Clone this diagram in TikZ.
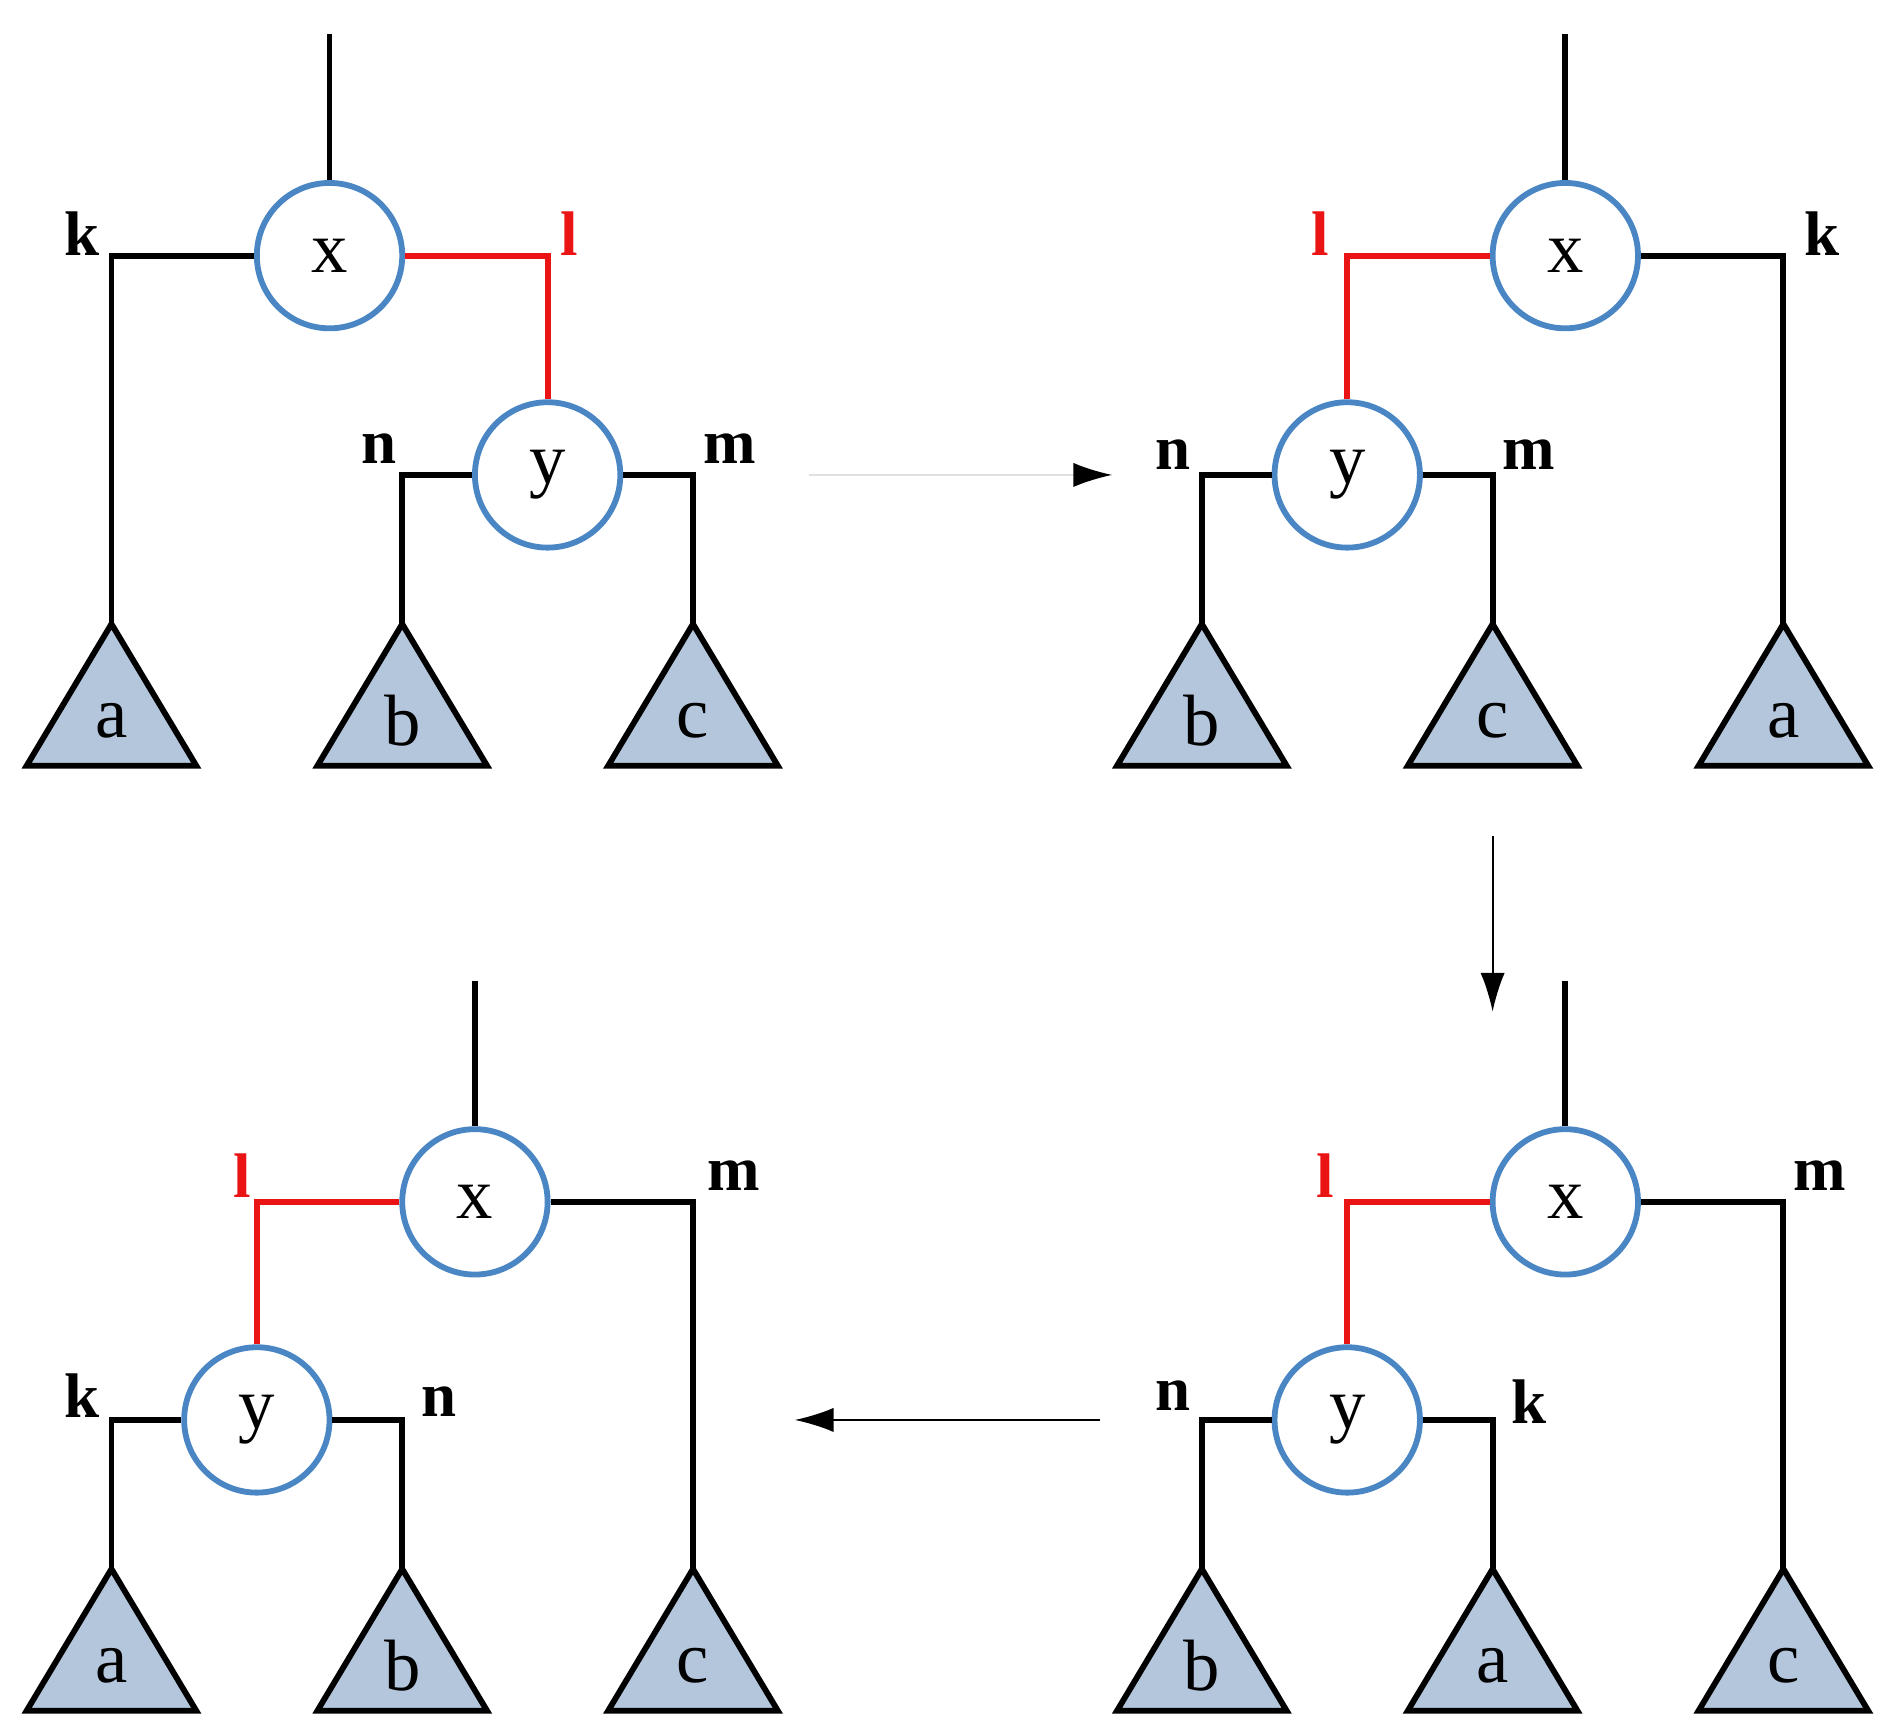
\documentclass[tikz,border=0pt]{standalone}
\usepackage{fontspec}
\setmainfont{Liberation Serif}
\usetikzlibrary{arrows.meta}
\definecolor{cblue}{RGB}{74,134,196}
\definecolor{tfill}{RGB}{180,198,220}
\definecolor{lred}{RGB}{235,20,20}
\tikzset{
 circ/.style={circle,draw=cblue,line width=2.4pt,minimum size=60pt,inner sep=0pt,font=\fontsize{30}{30}\selectfont,fill=white},
 edge/.style={line width=2.4pt,black},
 redge/.style={line width=2.4pt,lred},
 lab/.style={font=\bfseries\fontsize{26}{26}\selectfont},
 rlab/.style={lab,text=lred},
 tri/.style={line width=2.4pt,fill=tfill,draw=black},
 tlab/.style={font=\fontsize{30}{30}\selectfont},
 arr/.style={line width=0.8pt,-{Latex[length=16pt,width=10pt,color=black,fill=black]}}
}
% triangle: #1 name, #2 x, #3 top y, #4 label
\newcommand{\mytri}[4]{%
 \coordinate (#1) at (#2,#3);
 \draw[tri] (#1) -- ++(70,117) -- ++(-140,0) -- cycle;
 \node[tlab] (#1l) at (#2,#3+80) {#4};}
\begin{document}
\begin{tikzpicture}[x=0.5pt,y=-0.5pt]
\useasboundingbox (0,0) rectangle (1560,1426);
% ---------- panel 1
\node[circ] (x1) at (272,211) {x};
\node[circ] (y1) at (452,392) {y};
\coordinate (t1) at (272,28);
\draw[edge] (t1) -- (x1);
\mytri{a1}{92}{515}{a}\mytri{b1}{332}{515}{b}\mytri{c1}{572}{515}{c}
\draw[edge] (x1.west) -| (a1);
\draw[redge] (x1.east) -| (y1.north);
\draw[edge] (y1.west) -| (b1);
\draw[edge] (y1.east) -| (c1);
\node[lab] (k1) at (68,193) {k};
\node[rlab] (l1) at (470,193) {l};
\node[lab] (n1) at (313,370) {n};
\node[lab] (m1) at (602,370) {m};
% ---------- panel 2
\node[circ] (x2) at (1292,211) {x};
\node[circ] (y2) at (1112,392) {y};
\coordinate (t2) at (1292,28);
\draw[edge] (t2) -- (x2);
\mytri{b2}{992}{515}{b}\mytri{c2}{1232}{515}{c}\mytri{a2}{1472}{515}{a}
\draw[edge] (x2.east) -| (a2);
\draw[redge] (x2.west) -| (y2.north);
\draw[edge] (y2.west) -| (b2);
\draw[edge] (y2.east) -| (c2);
\node[lab] (k2) at (1504,193) {k};
\node[rlab] (l2) at (1090,193) {l};
\node[lab] (n2) at (968,375) {n};
\node[lab] (m2) at (1262,375) {m};
% ---------- panel 3 (bottom right)
\node[circ] (x3) at (1292,992) {x};
\node[circ] (y3) at (1112,1172) {y};
\coordinate (t3) at (1292,810);
\draw[edge] (t3) -- (x3);
\mytri{b3}{992}{1295}{b}\mytri{a3}{1232}{1295}{a}\mytri{c3}{1472}{1295}{c}
\draw[edge] (x3.east) -| (c3);
\draw[redge] (x3.west) -| (y3.north);
\draw[edge] (y3.west) -| (b3);
\draw[edge] (y3.east) -| (a3);
\node[lab] (m3) at (1502,970) {m};
\node[rlab] (l3) at (1094,970) {l};
\node[lab] (n3) at (968,1152) {n};
\node[lab] (k3) at (1262,1157) {k};
% ---------- panel 4 (bottom left)
\node[circ] (x4) at (392,992) {x};
\node[circ] (y4) at (212,1172) {y};
\coordinate (t4) at (392,810);
\draw[edge] (t4) -- (x4);
\mytri{a4}{92}{1295}{a}\mytri{b4}{332}{1295}{b}\mytri{c4}{572}{1295}{c}
\draw[edge] (x4.east) -| (c4);
\draw[redge] (x4.west) -| (y4.north);
\draw[edge] (y4.west) -| (a4);
\draw[edge] (y4.east) -| (b4);
\node[lab] (m4) at (606,970) {m};
\node[rlab] (l4) at (200,970) {l};
\node[lab] (k4) at (68,1152) {k};
\node[lab] (n4) at (362,1157) {n};
% ---------- arrows
\coordinate (p1) at (668,392); \coordinate (p2) at (918,392);
\draw[arr,draw=black!12] (p1) -- (p2);
\coordinate (q1) at (1232,690); \coordinate (q2) at (1232,835);
\draw[arr] (q1) -- (q2);
\coordinate (r1) at (908,1172); \coordinate (r2) at (656,1172);
\draw[arr] (r1) -- (r2);
\end{tikzpicture}
\end{document}
